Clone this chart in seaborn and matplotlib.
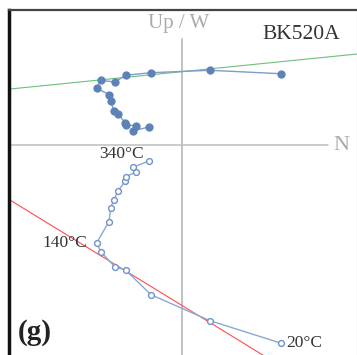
import numpy as np
import pandas as pd
import matplotlib
matplotlib.use("Agg")
import matplotlib.pyplot as plt
import seaborn as sns

# Demagnetization steps (arbitrary units)
steps = list(range(16))
north = [9.88, 2.83, -3.07, -5.62, -6.67, -8.09, -8.50, -7.27, -7.10, -6.79,
         -6.37, -5.64, -5.57, -4.60, -4.84, -3.27]
west = [7.13, 7.47, 7.23, 6.97, 6.30, 6.47, 5.70, 5.03, 4.40, 3.43,
        3.10, 2.23, 2.00, 1.93, 1.43, 1.80]
up = [-19.80, -17.57, -14.97, -12.50, -12.20, -10.67, -9.77, -7.67, -6.27, -5.50,
      -4.60, -3.60, -3.17, -2.70, -2.20, -1.60]
temp_labels = {0: "20°C", 6: "140°C", 15: "340°C"}

# PCA fit lines (slope, intercept)
green_fit = (0.1009, 7.33)
red_fit = (-0.613, -16.03)

sns.set_style("white")
plt.rcParams['font.family'] = ['Liberation Serif', 'DejaVu Serif']

fig = plt.figure(figsize=(3.57, 3.55), dpi=100)
ax = fig.add_axes([9/357, 0, 348/357, 345/355])

xmin, xmax = -17.27, 17.53
ymin, ymax = -21.0, 13.5
ax.set_xlim(xmin, xmax)
ax.set_ylim(ymin, ymax)

# axes cross
ax.plot([xmin, 14.63], [0, 0], color='#bdbdbd', lw=1.1, zorder=1)
ax.plot([0, 0], [ymin, 10.6], color='#bdbdbd', lw=1.3, zorder=1)

# fit lines
xs = np.array([xmin, xmax])
ax.plot(xs, green_fit[0]*xs + green_fit[1], color='#6cc07a', lw=0.8, zorder=2)
ax.plot(xs, red_fit[0]*xs + red_fit[1], color='#ff4d4d', lw=0.8, zorder=2)

df = pd.DataFrame({"step": steps, "N": north, "W": west, "Up": up})
sns.lineplot(data=df, x="N", y="W", sort=False, ax=ax, color='#7f9ccb', lw=1.0,
             marker='o', markersize=5.2, markerfacecolor='#5c82b8',
             markeredgecolor='#5c82b8', zorder=3)
sns.lineplot(data=df, x="N", y="Up", sort=False, ax=ax, color='#8aa8d6', lw=1.0,
             marker='o', markersize=4.2, markerfacecolor='white',
             markeredgecolor='#6f93c8', markeredgewidth=1.0, zorder=3)

# temperature labels
ax.annotate(temp_labels[0], (north[0], up[0]), xytext=(4, 0), textcoords='offset points',
            ha='left', va='center', fontsize=12.5, color='#333333')
ax.annotate(temp_labels[6], (north[6], up[6]), xytext=(-7, 0), textcoords='offset points',
            ha='right', va='center', fontsize=12.5, color='#333333')
ax.annotate(temp_labels[15], (north[15], up[15]), xytext=(-20, -0.5), textcoords='offset points',
            ha='center', va='bottom', fontsize=12.5, color='#333333')

ax.text(-0.3, 11.2, "Up / W", ha='center', va='bottom', fontsize=15, color='#aaaaaa')
ax.text(15.2, 0, "N", ha='left', va='center', fontsize=16, color='#aaaaaa')
ax.text(12.0, 10.1, "BK520A", ha='center', va='bottom', fontsize=15.5, color='#333333')
ax.text(-16.4, -18.7, "(g)", ha='left', va='center', fontsize=21, fontweight='bold', color='#222222')

ax.set_xticks([])
ax.set_yticks([])
ax.set_xlabel("")
ax.set_ylabel("")
ax.spines['left'].set_color('#111111')
ax.spines['left'].set_linewidth(2.5)
ax.spines['top'].set_color('#444444')
ax.spines['top'].set_linewidth(1.6)
ax.spines['right'].set_color('#e6e6e6')
ax.spines['right'].set_linewidth(1.0)
ax.spines['bottom'].set_visible(False)

fig.savefig("out.png", dpi=100)
